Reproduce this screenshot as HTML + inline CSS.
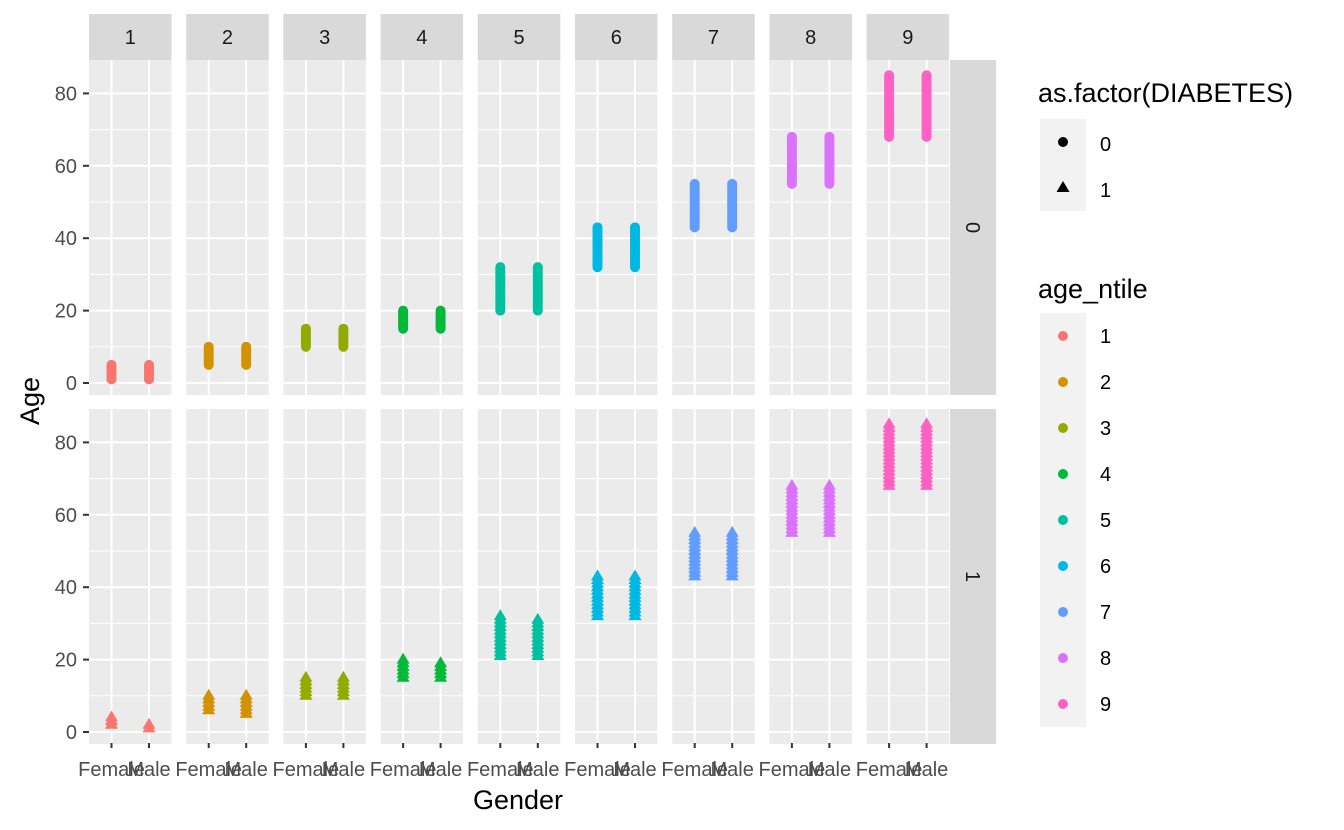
<!DOCTYPE html>
<html><head><meta charset="utf-8"><style>
html,body{margin:0;padding:0;background:#fff;}
svg{display:block;font-family:"Liberation Sans",Arial,sans-serif;}
</style></head><body>
<svg id="chart" width="1344" height="830" viewBox="0 0 1344 830">
<g id="panels"></g>
<g id="axes"></g>
<text x="518" y="809" font-size="27" text-anchor="middle" fill="#000">Gender</text>
<text transform="translate(39,401) rotate(-90)" font-size="27" text-anchor="middle" fill="#000">Age</text>
<g id="legend"></g>
</svg>
<script>
const ntiles = [1,2,3,4,5,6,7,8,9];
const genders = ["Female","Male"];
const colors = ["#F8766D","#D39200","#93AA00","#00BA38","#00C19F","#00B9E3","#619CFF","#DB72FB","#FF61C3"];
const yTicks = [0,20,40,60,80];
const yMinor = [10,30,50,70];
// diabetes 0: [min,max] per ntile, female / male
const d0FemaleMin = [1,5,10,15,20,32,43,55,68];
const d0FemaleMax = [5,10,15,20,32,43,55,68,85];
const d0MaleMin   = [1,5,10,15,20,32,43,55,68];
const d0MaleMax   = [5,10,15,20,32,43,55,68,85];
// diabetes 1
const d1FemaleMin = [2,6,10,15,21,32,43,55,68];
const d1FemaleMax = [4,10,15,20,32,43,55,68,85];
const d1MaleMin   = [1,5,10,15,21,32,43,55,68];
const d1MaleMax   = [2,10,15,19,31,43,55,68,85];

const NS="http://www.w3.org/2000/svg";
function mk(tag,attrs,parent){const e=document.createElementNS(NS,tag);for(const k in attrs)e.setAttribute(k,attrs[k]);parent.appendChild(e);return e;}
const P=document.getElementById('panels'), A=document.getElementById('axes'), L=document.getElementById('legend');
const panelLeft0=89, panelStep=97.2, panelW=82.5;
const rowTop=[60,409], rowH=335, rowZero=[383,732], pxPer=3.62;
function yS(row,v){return rowZero[row]-v*pxPer;}
function xS(col,g){return panelLeft0+col*panelStep+panelW/2+(g===0?-1:1)*panelW/2.2/2;}

const mins=[[d0FemaleMin,d0MaleMin],[d1FemaleMin,d1MaleMin]];
const maxs=[[d0FemaleMax,d0MaleMax],[d1FemaleMax,d1MaleMax]];

ntiles.forEach((n,c)=>{
  const x0=panelLeft0+c*panelStep;
  const st=mk('rect',{x:x0,y:14,width:panelW,height:46,fill:'#D9D9D9'},P);
  
  
  const stt=mk('text',{x:x0+panelW/2,y:44,'font-size':20,'text-anchor':'middle',fill:'#1A1A1A'},P);
  stt.textContent=n;
  
  
  for(let r=0;r<2;r++){
    const bg=mk('rect',{x:x0,y:rowTop[r],width:panelW,height:rowH,fill:'#EBEBEB'},P);
    
    
    yMinor.forEach(v=>mk('line',{x1:x0,x2:x0+panelW,y1:yS(r,v),y2:yS(r,v),stroke:'#fff','stroke-width':1},P));
    yTicks.forEach(v=>mk('line',{x1:x0,x2:x0+panelW,y1:yS(r,v),y2:yS(r,v),stroke:'#fff','stroke-width':2},P));
    genders.forEach((g,gi)=>mk('line',{x1:xS(c,gi),x2:xS(c,gi),y1:rowTop[r],y2:rowTop[r]+rowH,stroke:'#fff','stroke-width':2},P));
    genders.forEach((g,gi)=>{
      const lo=mins[r][gi][c], hi=maxs[r][gi][c], x=xS(c,gi);
      const step=r===0?0.5:1;
      for(let v=lo;v<=hi;v+=step){
        const y=yS(r,v);
        let m;
        if(r===0){m=mk('circle',{cx:x,cy:y,r:5,fill:colors[c]},P);}
        else{m=mk('polygon',{points:`${x},${y-7} ${x-6.5},${y+4} ${x+6.5},${y+4}`,fill:colors[c]},P);}
        
        
      }
    });
  }
  genders.forEach((g,gi)=>{
    const x=xS(c,gi);
    mk('line',{x1:x,x2:x,y1:743,y2:748,stroke:'#333','stroke-width':2},A);
    const t=mk('text',{x:x,y:776,'font-size':20,'text-anchor':'middle',fill:'#4D4D4D'},A);
    t.textContent=g;
    
    
  });
});
// right strips
[0,1].forEach(r=>{
  const s=mk('rect',{x:950,y:rowTop[r],width:46,height:rowH,fill:'#D9D9D9'},P);
  
  
  const t=mk('text',{transform:`translate(966,${rowTop[r]+rowH/2}) rotate(90)`,'font-size':20,'text-anchor':'middle',fill:'#1A1A1A'},P);
  t.textContent=r;
  
  
  yTicks.forEach(v=>{
    mk('line',{x1:83,x2:89,y1:yS(r,v),y2:yS(r,v),stroke:'#333','stroke-width':2},A);
    const tl=mk('text',{x:77,y:yS(r,v)+7,'font-size':20,'text-anchor':'end',fill:'#4D4D4D'},A);
    tl.textContent=v;
    
    
  });
});
// legends
function txt(x,y,s,size,parent,name){const t=mk('text',{x:x,y:y,'font-size':size,fill:'#000'},parent);t.textContent=s;return t;}
txt(1038,102,'as.factor(DIABETES)',27,L,'legend-title-diabetes');
mk('rect',{x:1040,y:119,width:46,height:92,fill:'#F2F2F2'},L);
const lc=mk('circle',{cx:1063,cy:142,r:5,fill:'#000'},L);


const lt=mk('polygon',{points:'1063,181 1056.5,192 1069.5,192',fill:'#000'},L);


txt(1100,151,'0',20,L,'legend-label-0');
txt(1100,197,'1',20,L,'legend-label-1');
txt(1038,298,'age_ntile',27,L,'legend-title-ntile');
mk('rect',{x:1040,y:313,width:46,height:414,fill:'#F2F2F2'},L);
ntiles.forEach((n,i)=>{
  const cy=336+i*46;
  const c=mk('circle',{cx:1063,cy:cy,r:5,fill:colors[i]},L);
  
  
  txt(1100,cy+7,String(n),20,L,'legend-label-ntile-'+n);
});
</script>
</body></html>
